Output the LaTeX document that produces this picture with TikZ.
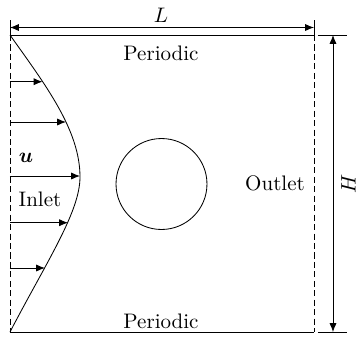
\documentclass[tikz,border=0pt]{standalone}
\usepackage{amsmath}
\usepackage{bm}
\usetikzlibrary{arrows.meta}
\begin{document}
\begin{tikzpicture}[x=0.476pt,y=-0.476pt,
  dim/.style={{Latex[length=4.2pt,width=3.4pt]}-{Latex[length=4.2pt,width=3.4pt]}},
  vel/.style={-{Latex[length=4.2pt,width=3.4pt]}},
  bnd/.style={dash pattern=on 2.9pt off 1.6pt},
  lbl/.style={inner sep=0pt}]
\useasboundingbox (0,0) rectangle (357,338);
% corners
\coordinate (TL) at (10,35);
\coordinate (TR) at (314,35);
\coordinate (BL) at (10,332);
\coordinate (BR) at (314,332);
% boundaries
\draw (TL) -- (TR);
\draw (BL) -- (BR);
\draw[bnd] (TL) -- (BL);
\draw[bnd] (TR) -- (BR);
% L dimension
\coordinate (Lt1) at (10,20);
\coordinate (Lt2) at (314,20);
\coordinate (L1) at (10,27.5);
\coordinate (L2) at (314,27.5);
\draw (Lt1) -- (TL);
\draw (Lt2) -- (TR);
\draw[dim] (L1) -- (L2);
\node[lbl] (Llab) at (161,15) {$L$};
% H dimension
\coordinate (Ht1) at (318,35);
\coordinate (Ht2) at (347,35);
\coordinate (Hb1) at (318,332);
\coordinate (Hb2) at (347,332);
\coordinate (H1) at (333,35);
\coordinate (H2) at (333,332);
\draw (Ht1) -- (Ht2);
\draw (Hb1) -- (Hb2);
\draw[dim] (H1) -- (H2);
\node[lbl,rotate=90] (Hlab) at (348.5,183.5) {$H$};
% cylinder
\node[circle,draw,minimum size=43.3pt,inner sep=0pt] (cyl) at (161.5,184) {};
% inlet profile
\coordinate (peak) at (80,177);
\draw (TL) .. controls (45.5,85) and (80,130) .. (peak)
           .. controls (80,212) and (46.4,262) .. (BL);
\coordinate (p1) at (42.5,81.7);
\coordinate (p2) at (66,122);
\coordinate (p3) at (80,176);
\coordinate (p4) at (68,222.7);
\coordinate (p5) at (45,268);
\coordinate (a1) at (10,81.7);
\coordinate (a2) at (10,122);
\coordinate (a3) at (10,176);
\coordinate (a4) at (10,222.7);
\coordinate (a5) at (10,268);
\foreach \i in {1,...,5} \draw[vel] (a\i) -- (p\i);
% labels
\node (ptop) at (161,53) {Periodic};
\node (pbot) at (161,321) {Periodic};
\node (outl) at (275,183) {Outlet};
\node (inl) at (40,199) {Inlet};
\node (ulab) at (26,158) {$\bm{u}$};
\end{tikzpicture}
\end{document}
